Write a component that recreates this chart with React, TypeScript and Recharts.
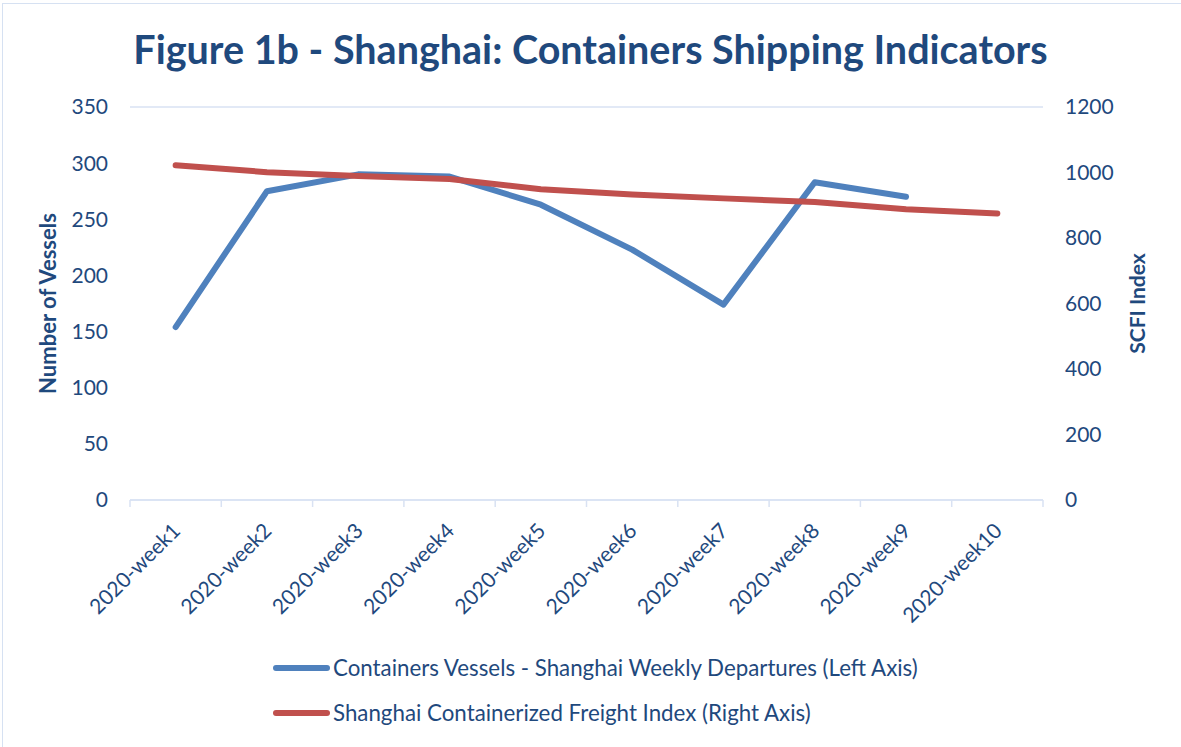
import {
  LineChart,
  Line,
  XAxis,
  YAxis,
  CartesianGrid,
  Legend,
} from "recharts";

const weeks = [
  "2020-week1",
  "2020-week2",
  "2020-week3",
  "2020-week4",
  "2020-week5",
  "2020-week6",
  "2020-week7",
  "2020-week8",
  "2020-week9",
  "2020-week10",
];
// weekly departures, left axis (no value for week10)
const vessels = [154, 275, 290, 288, 263, 223, 174, 283, 270, null];
// SCFI, right axis
const scfi = [1022, 1001, 989, 980, 949, 933, 921, 910, 888, 875];

const leftTicks = [0, 50, 100, 150, 200, 250, 300, 350];
const rightTicks = [0, 200, 400, 600, 800, 1000, 1200];

const vesselsName = "Containers Vessels - Shanghai Weekly Departures (Left Axis)";
const scfiName = "Shanghai Containerized Freight Index (Right Axis)";

const data = weeks.map((week, i) => ({
  week,
  vessels: vessels[i],
  scfi: scfi[i],
}));

const FONT = "Lato, 'Open Sans', sans-serif";
const TEXT = "#1F497D";
const BLUE = "#4F81BD";
const RED = "#C0504D";
const GRID = "#D9E2F3";

// label rotated -45deg, plus tick marks on the category boundaries (Excel style)
function WeekTick({ x, y, payload, index }: any) {
  const half = payload && payload.offset ? payload.offset : 0;
  return (
    <g>
      {half > 0 && (
        <line x1={x - half} x2={x - half} y1={y} y2={y + 7} stroke={GRID} strokeWidth={1.5} />
      )}
      {half > 0 && index === weeks.length - 1 && (
        <line x1={x + half} x2={x + half} y1={y} y2={y + 7} stroke={GRID} strokeWidth={1.5} />
      )}
      <g transform={`translate(${x},${y + 26}) rotate(-45)`}>
        <text
          x={0}
          y={0}
          textAnchor="end"
          dominantBaseline="central"
          fill={TEXT}
          fontSize={21}
          fontFamily={FONT}
        >
          {payload.value}
        </text>
      </g>
    </g>
  );
}

function LegendBox() {
  const rows = [
    { name: vesselsName, color: BLUE },
    { name: scfiName, color: RED },
  ];
  return (
    <div style={{ height: 90, paddingLeft: 273, fontFamily: FONT }}>
      <div style={{ marginTop: -4, transform: "translateY(-4px)" }}>
        {rows.map((r) => (
          <div
            key={r.name}
            style={{ height: 45, display: "flex", alignItems: "center" }}
          >
            <span
              style={{
                display: "inline-block",
                width: 57,
                height: 6,
                borderRadius: 3,
                background: r.color,
                marginRight: 3,
              }}
            />
            <span style={{ fontSize: 22.3, color: TEXT }}>{r.name}</span>
          </div>
        ))}
      </div>
    </div>
  );
}

export default function App() {
  return (
    <div
      style={{
        position: "absolute",
        left: 0,
        top: 0,
        width: 1181,
        height: 747,
        background: "#fff",
        overflow: "hidden",
      }}
    >
      <div
        style={{
          position: "absolute",
          left: 2,
          top: 3,
          width: 1185,
          height: 760,
          border: "1px solid #D6E1F2",
        }}
      />
      <div
        style={{
          position: "absolute",
          left: 0,
          top: 25,
          width: 1181,
          textAlign: "center",
          fontFamily: FONT,
          fontWeight: 700,
          fontSize: 39.5,
          color: TEXT,
        }}
      >
        Figure 1b - Shanghai: Containers Shipping Indicators
      </div>
      <LineChart
        width={1181}
        height={747}
        data={data}
        margin={{ top: 107, right: 38, left: 30, bottom: 8 }}
      >
        <CartesianGrid stroke={GRID} strokeWidth={1.5} vertical={false} />
        <XAxis
          dataKey="week"
          scale="band"
          interval={0}
          height={153}
          axisLine={{ stroke: GRID, strokeWidth: 1.5 }}
          tickLine={false}
          tickSize={0}
          tickMargin={0}
          tick={<WeekTick />}
        />
        <YAxis
          yAxisId="left"
          domain={[0, 350]}
          ticks={leftTicks}
          width={100}
          axisLine={false}
          tickLine={false}
          tickSize={0}
          tickMargin={22}
          tick={{ fill: TEXT, fontSize: 21, fontFamily: FONT }}
          label={{
            value: "Number of Vessels",
            angle: -90,
            position: "insideLeft",
            offset: 18,
            style: {
              textAnchor: "middle",
              fill: TEXT,
              fontSize: 22,
              fontWeight: 700,
              fontFamily: FONT,
            },
          }}
        />
        <YAxis
          yAxisId="right"
          orientation="right"
          domain={[0, 1200]}
          ticks={rightTicks}
          width={100}
          axisLine={false}
          tickLine={false}
          tickSize={0}
          tickMargin={22}
          tick={{ fill: TEXT, fontSize: 21, fontFamily: FONT, textAnchor: "start" }}
          label={{
            value: "SCFI Index",
            angle: -90,
            position: "insideRight",
            offset: 5,
            style: {
              textAnchor: "middle",
              fill: TEXT,
              fontSize: 21,
              fontWeight: 700,
              fontFamily: FONT,
            },
          }}
        />
        <Legend
          verticalAlign="bottom"
          content={<LegendBox />}
          wrapperStyle={{ left: 0, width: 1181 }}
        />
        <Line
          yAxisId="left"
          dataKey="vessels"
          name={vesselsName}
          stroke={BLUE}
          strokeWidth={6}
          strokeLinecap="round"
          strokeLinejoin="round"
          dot={false}
          isAnimationActive={false}
        />
        <Line
          yAxisId="right"
          dataKey="scfi"
          name={scfiName}
          stroke={RED}
          strokeWidth={6}
          strokeLinecap="round"
          strokeLinejoin="round"
          dot={false}
          isAnimationActive={false}
        />
      </LineChart>
    </div>
  );
}
